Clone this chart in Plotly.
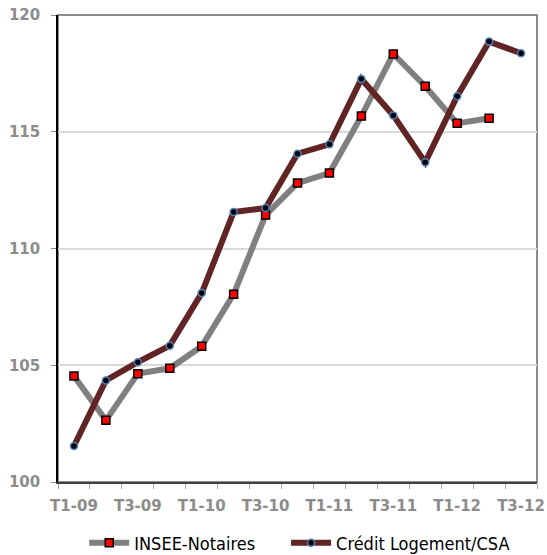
import plotly.graph_objects as go

# Quarterly periods, T1-09 .. T3-12
quarters = ["T1-09", "T2-09", "T3-09", "T4-09",
            "T1-10", "T2-10", "T3-10", "T4-10",
            "T1-11", "T2-11", "T3-11", "T4-11",
            "T1-12", "T2-12", "T3-12"]

# Price indices
insee_notaires = [104.54, 102.64, 104.64, 104.87, 105.81, 108.04, 111.43,
                  112.80, 113.23, 115.67, 118.33, 116.95, 115.36, 115.58]
credit_logement = [101.54, 104.35, 105.13, 105.84, 108.09, 111.56, 111.73,
                   114.06, 114.46, 117.26, 115.70, 113.69, 116.52, 118.86, 118.36]

# Only first and third quarters carry a label
tick_text = [q if q.startswith(("T1", "T3")) else "" for q in quarters]

GRAY_TXT = "#8c8c8c"
AXIS_FONT = dict(family="DejaVu Sans", size=15, color=GRAY_TXT, weight="bold")
LEGEND_FONT = dict(family="DejaVu Sans Condensed, sans-serif", size=18, color="#000000")

fig = go.Figure()
fig.add_trace(go.Scatter(
    x=quarters[:len(insee_notaires)], y=insee_notaires,
    name="INSEE-Notaires", mode="lines+markers", legend="legend",
    line=dict(color="#808080", width=6),
    marker=dict(symbol="square", size=8, color="#ff0000",
                line=dict(color="#000000", width=1.5)),
))
fig.add_trace(go.Scatter(
    x=quarters, y=credit_logement,
    name="Crédit Logement/CSA", mode="lines+markers", legend="legend2",
    line=dict(color="#602424", width=6),
    marker=dict(symbol="circle", size=7, color="#000000",
                line=dict(color="#4f81bd", width=1.5)),
))

# Plot frame: gray top/right edges
fig.add_shape(type="rect", xref="paper", yref="paper", x0=0, x1=1, y0=0, y1=1,
              line=dict(color="#8c8c8c", width=2), layer="below")

legend_common = dict(orientation="h", xanchor="left", xref="container",
                     y=0.0216, yanchor="middle", yref="container",
                     font=LEGEND_FONT, itemwidth=40, bgcolor="rgba(0,0,0,0)")

fig.update_layout(
    width=547, height=555,
    margin=dict(l=58, r=10, t=15, b=73),
    paper_bgcolor="white", plot_bgcolor="white",
    showlegend=True,
    legend=dict(x=0.154, **legend_common),
    legend2=dict(x=0.523, **legend_common),
    xaxis=dict(
        type="category", categoryorder="array", categoryarray=quarters,
        range=[-0.5, len(quarters) - 0.5],
        tickmode="array", tickvals=quarters, ticktext=tick_text,
        tickson="boundaries", ticks="outside", ticklen=5, tickcolor="#a6a6a6",
        tickwidth=1, tickfont=AXIS_FONT, ticklabelstandoff=9, tickangle=0,
        showline=True, linecolor="#404040", linewidth=1.5,
        showgrid=False, zeroline=False, mirror=False, automargin=False,
    ),
    yaxis=dict(
        range=[100, 120], dtick=5, tick0=100,
        ticks="outside", ticklen=5, tickcolor="#8c8c8c", tickwidth=1,
        tickfont=AXIS_FONT, ticklabelstandoff=8,
        showline=True, linecolor="#000000", linewidth=1.5,
        showgrid=True, gridcolor="#d9d9d9", gridwidth=1.5,
        zeroline=False, automargin=False,
    ),
)

fig.write_html("out.html")
